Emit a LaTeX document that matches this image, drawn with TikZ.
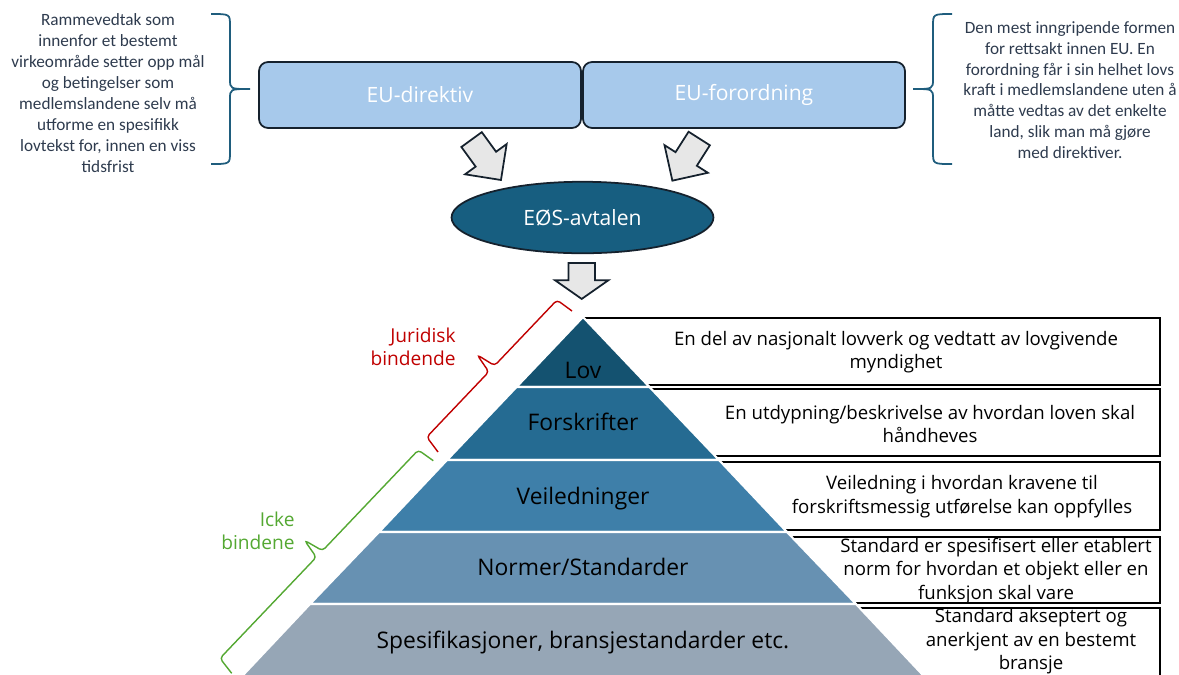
\documentclass[tikz,border=0pt]{standalone}
\usepackage{fontspec}
\setmainfont{Open Sans}
\newfontfamily\calib{Carlito}
\usetikzlibrary{shapes.arrows,shapes.geometric}

\definecolor{eublue}{RGB}{167,201,235}
\definecolor{eudark}{RGB}{21,33,45}
\definecolor{eosteal}{RGB}{23,94,128}
\definecolor{bracec}{RGB}{31,93,125}
\definecolor{sidetxt}{RGB}{46,59,78}
\definecolor{lovc}{RGB}{20,82,112}
\definecolor{forc}{RGB}{37,107,146}
\definecolor{veic}{RGB}{62,127,169}
\definecolor{norc}{RGB}{103,145,178}
\definecolor{spec}{RGB}{150,166,182}
\definecolor{jurred}{RGB}{192,0,0}
\definecolor{ickegreen}{RGB}{84,168,50}
\definecolor{arrgray}{RGB}{231,231,231}

\tikzset{
  eubox/.style={draw=eudark, line width=1pt, fill=eublue, rounded corners=0.18cm,
    minimum width=6.44cm, minimum height=1.32cm, text=white, font=\fontsize{12}{14}\selectfont},
  eos/.style={ellipse, draw=eudark, line width=1pt, fill=eosteal, minimum width=5.24cm,
    minimum height=1.43cm, text=white, font=\fontsize{12}{14}\selectfont},
  blockarr/.style={single arrow, draw=eudark, line width=1pt, fill=arrgray, inner xsep=0pt,
    inner ysep=0.235cm, single arrow head extend=0.262cm, minimum height=1cm, minimum width=0pt},
  sidenote/.style={align=center, text=sidetxt, font=\calib\fontsize{9.8}{11.9}\selectfont},
  sidebrace/.style={draw=bracec, line width=1pt},
  band/.style={draw=white, line width=1.2pt, line join=round},
  bandlabel/.style={anchor=base, font=\fontsize{13}{15}\selectfont},
  descbox/.style={draw=black, line width=1.1pt},
  desctext/.style={align=center, font=\fontsize{10.6}{13.3}\selectfont},
  jurbrace/.style={draw=jurred, line width=0.8pt, rounded corners=2pt},
  ickebrace/.style={draw=ickegreen, line width=0.8pt, rounded corners=2pt},
  grouplabel/.style={anchor=east, align=right, inner sep=0pt, font=\fontsize{10.9}{13}\selectfont}
}

\begin{document}
\begin{tikzpicture}[x=0.02cm, y=-0.02cm]
\useasboundingbox (0,0) rectangle (1179,674);
\clip (0,0) rectangle (1179,674);

% EU level
\node[eubox] (direktiv) at (420,95) {EU-direktiv};
\node[eubox] (forordning) at (744,95) {EU-forordning};

\node[sidenote] (dirnote) at (108,93) {Rammevedtak som\\innenfor et bestemt\\virkeområde setter opp mål\\og betingelser som\\medlemslandene selv må\\utforme en spesifikk\\lovtekst for, innen en viss\\tidsfrist};
\node[sidenote] (fornote) at (1070,90) {Den mest inngripende formen\\for rettsakt innen EU. En\\forordning får i sin helhet lovs\\kraft i medlemslandene uten å\\måtte vedtas av det enkelte\\land, slik man må gjøre\\med direktiver.};

\draw[sidebrace] (211,14) .. controls (230,14) .. (230,26) -- (230,79) .. controls (230,89) .. (250,89)
  .. controls (230,89) .. (230,99) -- (230,152) .. controls (230,164) .. (211,164);
\draw[sidebrace] (952,14) .. controls (933,14) .. (933,26) -- (933,79) .. controls (933,89) .. (913,89)
  .. controls (933,89) .. (933,99) -- (933,152) .. controls (933,164) .. (952,164);

% EOS
\node[eos] (eos) at (582.5,217.5) {EØS-avtalen};
\node[blockarr, rotate=-54, anchor=tip] (arrdir) at (501.7,181) {};
\node[blockarr, rotate=-122.5, anchor=tip] (arrfor) at (671.7,181.7) {};
\node[blockarr, rotate=-90, anchor=tip, single arrow tip angle=110,
  inner ysep=0.247cm, single arrow head extend=0.266cm, minimum height=0.72cm] (arreos) at (581.7,300) {};

% boxes to the right
\draw[descbox] (583,318) rectangle (1160,385);
\draw[descbox] (583,389) rectangle (1160,456);
\draw[descbox] (583,462) rectangle (1160,530);
\draw[descbox] (583,537) rectangle (1160,603);
\draw[descbox] (583,608) rectangle (1160,700);

% pyramid
\filldraw[band, fill=lovc] (583,317) -- (649.5,387) -- (516.5,387) -- cycle;
\filldraw[band, fill=forc] (516.5,387) -- (649.5,387) -- (719,460) -- (447,460) -- cycle;
\filldraw[band, fill=veic] (447,460) -- (719,460) -- (787,532) -- (379,532) -- cycle;
\filldraw[band, fill=norc] (379,532) -- (787,532) -- (856,604) -- (310,604) -- cycle;
\filldraw[band, fill=spec] (310,604) -- (856,604) -- (937,690) -- (229,690) -- cycle;

\node[bandlabel] (lov) at (583,378) {Lov};
\node[bandlabel] (forskr) at (583,430) {Forskrifter};
\node[bandlabel] (veil) at (583,504) {Veiledninger};
\node[bandlabel] (normer) at (583,575) {Normer/Standarder};
\node[bandlabel] (spesif) at (583,648) {Spesifikasjoner, bransjestandarder etc.};

\node[desctext] (lovtxt) at (896,352) {En del av nasjonalt lovverk og vedtatt av lovgivende\\myndighet};
\node[desctext] (forskrtxt) at (930,424) {En utdypning/beskrivelse av hvordan loven skal\\håndheves};
\node[desctext] (veiltxt) at (962,496.5) {Veiledning i hvordan kravene til\\forskriftsmessig utførelse kan oppfylles};
\node[desctext] (normertxt) at (996,571) {Standard er spesifisert eller etablert\\norm for hvordan et objekt eller en\\funksjon skal vare};
\node[desctext] (spesiftxt) at (1031,641.5) {Standard akseptert og\\anerkjent av en bestemt\\bransje};

% legal status
\draw[jurbrace] (572,311) -- (557,300) -- (494.6,365.6) -- (477.2,354.9) -- (488.8,371.8) -- (426.8,437) -- (438,452);
\draw[ickebrace] (433.3,460.7) -- (418.3,450) -- (322.5,550.7) -- (304.6,540.4) -- (316.3,557.2) -- (220,658.3) -- (231.7,673.3);
\node[grouplabel, text=jurred] (jur) at (456,347) {Juridisk\\bindende};
\node[grouplabel, text=ickegreen] (icke) at (295,531) {Icke\\bindene};

\end{tikzpicture}
\end{document}
